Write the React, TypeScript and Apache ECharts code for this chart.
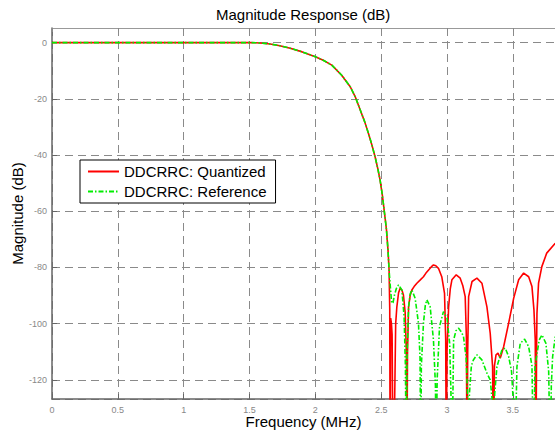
import React, { useEffect, useRef } from "react";
import * as echarts from "echarts";

// Shared passband / transition (both curves overlap here)
const passFreq = [0, 0.25, 0.5, 0.75, 1.0, 1.25, 1.5, 1.55, 1.6, 1.657, 1.73, 1.809, 1.9, 2.0, 2.06, 2.125, 2.2, 2.265, 2.305, 2.341, 2.375, 2.404, 2.43, 2.454, 2.475, 2.492, 2.508, 2.523, 2.54, 2.552];
const passDb = [0, 0, 0, 0, 0, 0, 0, -0.05, -0.2, -0.5, -1.1, -2.0, -3.3, -5.0, -6.3, -8.0, -11.6, -15.7, -19.5, -24, -28.2, -32.4, -36.5, -40.7, -45, -49, -54, -59.8, -66.5, -74];

// Quantized stopband
const quantFreq = [2.56, 2.565, 2.568, 2.572, 2.578, 2.583, 2.59, 2.596, 2.61, 2.619, 2.632, 2.644, 2.657, 2.669, 2.682, 2.691, 2.695, 2.7, 2.708, 2.72, 2.733, 2.75, 2.771, 2.795, 2.821, 2.84, 2.86, 2.88, 2.897, 2.915, 2.935, 2.96, 2.981, 2.99, 2.994, 3.0, 3.012, 3.025, 3.037, 3.07, 3.1, 3.12, 3.138, 3.147, 3.152, 3.157, 3.164, 3.19, 3.227, 3.265, 3.303, 3.328, 3.346, 3.353, 3.36, 3.372, 3.387, 3.404, 3.43, 3.468, 3.506, 3.544, 3.582, 3.62, 3.645, 3.66, 3.67, 3.675, 3.68, 3.683, 3.695, 3.72, 3.757, 3.822];
const quantDb = [-81, -95, -150, -98, -100, -104, -150, -150, -100, -94, -89, -87.4, -88, -89.8, -96, -110, -150, -110, -94, -90, -88, -86.8, -85.6, -84.5, -83.3, -82, -80.9, -79.8, -79.1, -79.4, -80.3, -83.3, -89.2, -105.8, -150, -110, -94, -87.5, -84.4, -82.6, -83.8, -86.5, -90.4, -105, -150, -110, -90.4, -85, -83.8, -85.6, -94, -103.4, -115.3, -150, -115, -111.1, -110.5, -112.3, -108.2, -99.8, -91, -84.4, -82, -83.3, -86.8, -95, -105.8, -150, -110, -96.3, -85.6, -79.7, -74.9, -71.4];

// Reference stopband
const refFreq = [2.56, 2.568, 2.58, 2.59, 2.6, 2.615, 2.632, 2.657, 2.674, 2.684, 2.69, 2.696, 2.708, 2.72, 2.733, 2.758, 2.783, 2.795, 2.8, 2.805, 2.821, 2.835, 2.847, 2.872, 2.897, 2.912, 2.918, 2.925, 2.943, 2.973, 3.0, 3.02, 3.03, 3.038, 3.05, 3.068, 3.088, 3.11, 3.125, 3.145, 3.16, 3.164, 3.17, 3.185, 3.2, 3.227, 3.265, 3.303, 3.328, 3.345, 3.353, 3.362, 3.379, 3.417, 3.442, 3.468, 3.49, 3.506, 3.515, 3.531, 3.556, 3.589, 3.62, 3.645, 3.657, 3.668, 3.7, 3.721, 3.751, 3.772, 3.784, 3.792, 3.802, 3.822];
const refDb = [-81, -86, -92.7, -92.5, -90, -87.5, -86.2, -88, -97.5, -115, -150, -112, -94, -89.5, -88, -91, -99.8, -112, -150, -115, -99.8, -93.5, -91.5, -94, -105.8, -122, -150, -120, -101, -95.7, -98, -107, -125, -150, -105.8, -102.5, -101.6, -103, -104.6, -112, -130, -150, -125, -115, -112.9, -111.1, -112.9, -117.6, -120, -128, -150, -125, -115.3, -109.3, -108.7, -111.7, -117, -130, -150, -115.3, -107, -105.5, -108.2, -115, -150, -115.3, -105.8, -104, -107, -117, -150, -122, -111.7, -104.6];

const seriesNames = ["DDCRRC: Quantized", "DDCRRC: Reference"];
const titleText = "Magnitude Response (dB)";
const xName = "Frequency (MHz)";
const yName = "Magnitude (dB)";

const zip = (f: number[], d: number[]) => f.map((v, i) => [v, d[i]]);

const FONT = "'Liberation Sans', Arial, sans-serif";

export default function App() {
  const ref = useRef<HTMLDivElement>(null);
  useEffect(() => {
    if (!ref.current) return;
    const chart = echarts.init(ref.current, undefined, { renderer: "svg" });
    const quantData = zip(passFreq, passDb).concat(zip(quantFreq, quantDb));
    const refData = zip(passFreq, passDb).concat(zip(refFreq, refDb));
    const gridLine = { show: true, lineStyle: { color: "#8a8a8a", type: [8, 5] as any, width: 1 } };
    chart.setOption({
      animation: false,
      backgroundColor: "#fff",
      textStyle: { fontFamily: FONT },
      title: {
        text: titleText,
        left: 216,
        top: 7,
        padding: 0,
        textStyle: { fontSize: 15, fontWeight: "normal", color: "#000", fontFamily: FONT },
      },
      legend: {
        orient: "vertical",
        left: 80,
        top: 160,
        padding: [4, 9, 4, 7],
        itemWidth: 31,
        itemHeight: 12,
        itemGap: 5,
        borderColor: "#000",
        borderWidth: 1,
        backgroundColor: "#fff",
        itemStyle: { opacity: 0, borderWidth: 0 },
        textStyle: { fontSize: 15, color: "#000", fontFamily: FONT },
        data: seriesNames,
      },
      grid: { left: 52, right: 0, top: 28, bottom: 38, outerBoundsMode: "none", containLabel: false },
      xAxis: [
        {
          type: "value",
          position: "bottom",
          min: 0,
          max: 3.82,
          interval: 0.5,
          name: xName,
          nameLocation: "middle",
          nameGap: 15,
          nameMoveOverlap: false,
          nameTextStyle: { fontSize: 15, color: "#000", fontFamily: FONT },
          axisLine: { show: true, onZero: false, lineStyle: { color: "#666", width: 1.5 } },
          axisTick: { show: true, inside: true, length: 5, lineStyle: { color: "#666" } },
          axisLabel: { color: "#888", fontSize: 9, margin: 6, showMaxLabel: false, fontFamily: FONT },
          splitLine: gridLine,
        },
        {
          type: "value",
          position: "top",
          min: 0,
          max: 3.82,
          interval: 0.5,
          axisLine: { show: true, onZero: false, lineStyle: { color: "#999", width: 1 } },
          axisTick: { show: true, inside: true, length: 4, lineStyle: { color: "#888" } },
          axisLabel: { show: false },
          splitLine: { show: false },
        },
      ],
      yAxis: {
        type: "value",
        min: -126.8,
        max: 5.2,
        splitNumber: 7,
        name: yName,
        nameLocation: "middle",
        nameGap: 27,
        nameMoveOverlap: false,
        nameRotate: 90,
        nameTextStyle: { fontSize: 15, color: "#000", fontFamily: FONT },
        axisLine: { show: true, onZero: false, lineStyle: { color: "#666", width: 1.5 } },
        axisTick: { show: true, inside: true, length: 5, lineStyle: { color: "#666" } },
        axisLabel: { color: "#888", fontSize: 9, margin: 5, showMinLabel: false, showMaxLabel: false, fontFamily: FONT },
        splitLine: gridLine,
      },
      series: [
        {
          name: seriesNames[0],
          type: "line",
          data: quantData,
          symbol: "none",
          clip: true,
          lineStyle: { color: "#ff0000", width: 1.6 },
          itemStyle: { color: "#ff0000" },
        },
        {
          name: seriesNames[1],
          type: "line",
          data: refData,
          symbol: "none",
          clip: true,
          lineStyle: { color: "#00ee00", width: 1.6, type: [5, 2, 1.5, 2] as any },
          itemStyle: { color: "#00ee00" },
        },
      ],
    });
    return () => chart.dispose();
  }, []);
  return (
    <div
      ref={ref}
      style={{ position: "absolute", left: 0, top: 0, width: 555, height: 437 }}
    />
  );
}
